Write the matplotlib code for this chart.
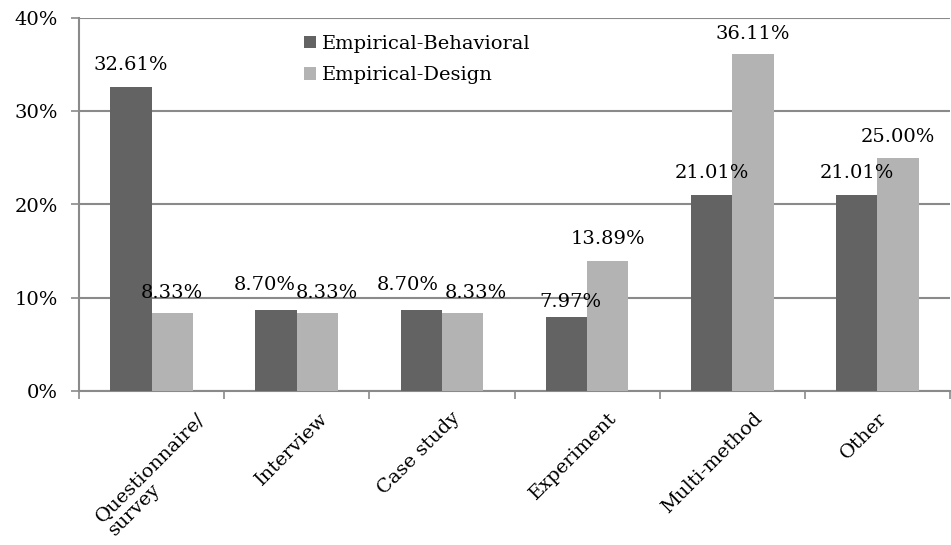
import matplotlib
matplotlib.use('Agg')
import matplotlib.pyplot as plt
import numpy as np
from matplotlib.ticker import FuncFormatter, MultipleLocator
from matplotlib.transforms import ScaledTranslation

categories = ['Questionnaire/\nsurvey', 'Interview', 'Case study', 'Experiment', 'Multi-method', 'Other']
behavioral = [32.61, 8.70, 8.70, 7.97, 21.01, 21.01]
design = [8.33, 8.33, 8.33, 13.89, 36.11, 25.00]
series_names = ['Empirical-Behavioral', 'Empirical-Design']

# label nudges in pixels (the labels were dragged around in the original)
beh_dx = [0, -11, -13, 4, 0, 0]
beh_dy = [22, 25, 25, 15, 22, 22]
des_dx = [0, 9, 13, 0, 0, 0]
des_dy = [20, 20, 20, 22, 20, 21]
tick_dx = [44, 22, 9, 21, 21, 0]

dark = '#636363'
light = '#b3b3b3'
grid = '#8a8a8a'
fs = 14

plt.rcParams['font.family'] = 'DejaVu Serif'

fig = plt.figure(figsize=(9.51, 5.45), dpi=100)
ax = fig.add_axes([79 / 951, (545 - 391) / 545, (950 - 79) / 951, (391 - 18) / 545])

x = np.arange(len(categories))
w = 0.285
ax.bar(x - w / 2, behavioral, w, color=dark, label=series_names[0], zorder=3)
ax.bar(x + w / 2, design, w, color=light, label=series_names[1], zorder=3)

for i in range(len(categories)):
    ax.annotate('%.2f%%' % behavioral[i], (x[i] - w / 2, behavioral[i]),
                xytext=(beh_dx[i], beh_dy[i]), textcoords='offset pixels',
                ha='center', va='center', fontsize=fs, zorder=4)
    ax.annotate('%.2f%%' % design[i], (x[i] + w / 2, design[i]),
                xytext=(des_dx[i], des_dy[i]), textcoords='offset pixels',
                ha='center', va='center', fontsize=fs, zorder=4)

ax.set_xlim(-0.5, len(categories) - 0.5)
ax.set_ylim(0, 40)
ax.yaxis.set_major_locator(MultipleLocator(10))
ax.yaxis.set_major_formatter(FuncFormatter(lambda v, p: '%d%%' % v))
ax.grid(axis='y', color=grid, linewidth=1.5, zorder=0)

for s in ['top', 'right']:
    ax.spines[s].set_visible(False)
for s in ['left', 'bottom']:
    ax.spines[s].set_color(grid)
    ax.spines[s].set_linewidth(1.5)

# x ticks sit between the groups, labels under the groups
ax.set_xticks(np.arange(len(categories) + 1) - 0.5)
ax.set_xticklabels([])
ax.set_xticks(x, minor=True)
ax.set_xticklabels(categories, minor=True, rotation=45, ha='right',
                   rotation_mode='anchor', fontsize=fs, multialignment='left',
                   linespacing=1.1)
ax.tick_params(axis='x', which='minor', length=0, pad=13)
ax.tick_params(axis='x', which='major', length=6, color=grid, width=1.2)
ax.tick_params(axis='y', length=6, color=grid, width=1.2, labelsize=fs, pad=9)
for lab, dx in zip(ax.get_xticklabels(minor=True), tick_dx):
    lab.set_transform(lab.get_transform() + ScaledTranslation(dx / 100, 0, fig.dpi_scale_trans))

ax.legend(loc='upper left', bbox_to_anchor=(296 / 951, 1 - 27 / 545), bbox_transform=fig.transFigure,
          frameon=False, fontsize=fs, handlelength=0.62, handleheight=0.62,
          handletextpad=0.3, labelspacing=0.7, borderaxespad=0)

fig.savefig('out.png', dpi=100)
